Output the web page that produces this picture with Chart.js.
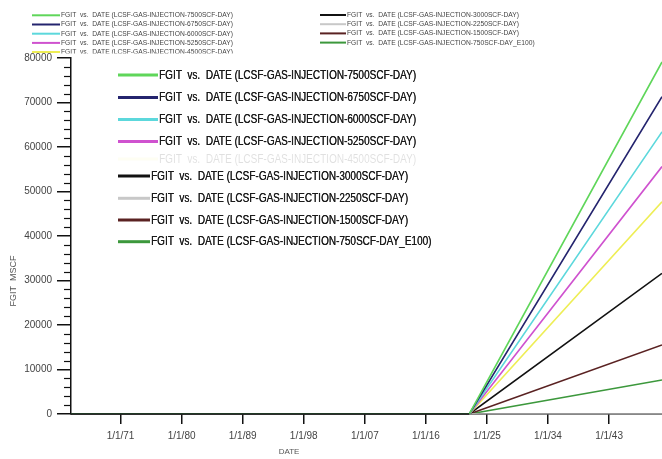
<!DOCTYPE html>
<html><head><meta charset="utf-8">
<script src="https://cdn.jsdelivr.net/npm/chart.js@4/dist/chart.umd.min.js"></script>
<style>html,body{margin:0;padding:0;background:#fff;} #wrap{width:662px;height:459px;position:relative;}</style>
</head><body><div id="wrap"><canvas id="c" width="662" height="459"></canvas></div>
<script>
// ---- data ----
const dateYears = [1963.7, 2022.4, 2050.8];
const seriesLabels = [
  'FGIT  vs.  DATE (LCSF-GAS-INJECTION-7500SCF-DAY)',
  'FGIT  vs.  DATE (LCSF-GAS-INJECTION-6750SCF-DAY)',
  'FGIT  vs.  DATE (LCSF-GAS-INJECTION-6000SCF-DAY)',
  'FGIT  vs.  DATE (LCSF-GAS-INJECTION-5250SCF-DAY)',
  'FGIT  vs.  DATE (LCSF-GAS-INJECTION-4500SCF-DAY)',
  'FGIT  vs.  DATE (LCSF-GAS-INJECTION-3000SCF-DAY)',
  'FGIT  vs.  DATE (LCSF-GAS-INJECTION-2250SCF-DAY)',
  'FGIT  vs.  DATE (LCSF-GAS-INJECTION-1500SCF-DAY)',
  'FGIT  vs.  DATE (LCSF-GAS-INJECTION-750SCF-DAY_E100)'
];
const fgit7500 = [0, 0, 79100];
const fgit6750 = [0, 0, 71300];
const fgit6000 = [0, 0, 63400];
const fgit5250 = [0, 0, 55600];
const fgit4500 = [0, 0, 47700];
const fgit3000 = [0, 0, 31600];
const fgit2250 = [0, 0, 0];
const fgit1500 = [0, 0, 15500];
const fgit750  = [0, 0, 7640];
const tickYears = [1971, 1980, 1989, 1998, 2007, 2016, 2025, 2034, 2043];
const yTitle = 'FGIT  MSCF';
const xTitle = 'DATE';

// ---- styles ----
const seriesColors = ['#5fd65a', '#24246e', '#5cd8dc', '#cf52cf', '#eeee55', '#111111', '#c8c8c8', '#5a2222', '#3c983c'];
const allSeries = [fgit7500, fgit6750, fgit6000, fgit5250, fgit4500, fgit3000, fgit2250, fgit1500, fgit750];

const datasets = allSeries.map((vals, i) => ({
  label: seriesLabels[i],
  data: vals.map((v, j) => ({x: dateYears[j], y: v})),
  borderColor: seriesColors[i],
  backgroundColor: seriesColors[i],
  borderWidth: 1.6,
  pointRadius: 0,
  tension: 0,
  fill: false
}));

const overlay = {
  id: 'overlay',
  afterDraw(chart) {
    const ctx = chart.ctx, ys = chart.scales.y, xs = chart.scales.x;
    ctx.save();
    // x axis line redrawn on top of the zero-valued series
    ctx.strokeStyle = '#111'; ctx.lineWidth = 1.5;
    const y0 = ys.getPixelForValue(0);
    ctx.beginPath(); ctx.moveTo(xs.left, y0); ctx.lineTo(xs.getPixelForValue(dateYears[1]), y0); ctx.stroke();
    // minor y ticks
    ctx.lineWidth = 1.2;
    for (let v = 0; v <= ys.max; v += 2000) {
      if (v % 10000 === 0) continue;
      const p = Math.round(ys.getPixelForValue(v)) + 0.5;
      ctx.beginPath(); ctx.moveTo(xs.left - 7, p); ctx.lineTo(xs.left, p); ctx.stroke();
    }
    // axis titles
    ctx.fillStyle = '#555';
    ctx.textAlign = 'center'; ctx.textBaseline = 'middle';
    ctx.font = '9px "Liberation Sans", Arial, sans-serif';
    ctx.save(); ctx.translate(14, 281); ctx.rotate(-Math.PI / 2); ctx.fillText(yTitle, 0, 0); ctx.restore();
    ctx.font = '8px "Liberation Sans", Arial, sans-serif';
    ctx.fillText(xTitle, 289, 452);

    // top legend
    ctx.textAlign = 'left';
    ctx.font = '7px "Liberation Sans", Arial, sans-serif';
    const k1 = 172 / ctx.measureText(seriesLabels[0]).width;
    const drawSmall = (i, x0, x1, y) => {
      ctx.strokeStyle = seriesColors[i]; ctx.lineWidth = 2;
      ctx.beginPath(); ctx.moveTo(x0, y); ctx.lineTo(x1, y); ctx.stroke();
      ctx.fillStyle = '#444';
      ctx.save(); ctx.translate(x1 + 1, y); ctx.scale(k1, 1); ctx.fillText(seriesLabels[i], 0, 0); ctx.restore();
    };
    for (let i = 0; i < 4; i++) drawSmall(i, 32, 60, 15.3 + i * 9.2);
    ctx.save(); ctx.beginPath(); ctx.rect(0, 0, 662, 53.5); ctx.clip();
    drawSmall(4, 32, 60, 15.3 + 4 * 9.2);
    ctx.restore();
    for (let i = 5; i < 9; i++) drawSmall(i, 320, 346, 15 + (i - 5) * 9.2);

    // inner legend
    ctx.font = '13px "Liberation Sans Narrow", "Arial Narrow", "Liberation Sans", sans-serif';
    const k2 = 257 / ctx.measureText(seriesLabels[0]).width;
    const rows = [75, 97.5, 119.5, 141.5, 159, 176, 198.3, 220, 241.7];
    rows.forEach((y, i) => {
      const faint = (i === 4);
      const x1 = i < 5 ? 158 : 150;
      ctx.globalAlpha = faint ? 0.07 : 1;
      ctx.strokeStyle = seriesColors[i]; ctx.lineWidth = 3;
      ctx.beginPath(); ctx.moveTo(118, y); ctx.lineTo(x1, y); ctx.stroke();
      ctx.fillStyle = '#1a1a1a';
      ctx.save(); ctx.translate(x1 + 1, y); ctx.scale(k2, 1);
      ctx.fillText(seriesLabels[i], 0, 0); ctx.fillText(seriesLabels[i], 0.3, 0);
      ctx.restore();
    });
    ctx.restore();
  }
};

new Chart(document.getElementById('c'), {
  type: 'line',
  data: { datasets },
  options: {
    responsive: false,
    animation: false,
    devicePixelRatio: 1,
    layout: { padding: { top: 58, left: 0, right: 0, bottom: 0 } },
    plugins: { legend: { display: false }, tooltip: { enabled: false } },
    scales: {
      x: {
        type: 'linear', min: 1963.7, max: 2050.8, z: 1,
        afterBuildTicks: s => { s.ticks = tickYears.map(v => ({ value: v })); },
        afterFit: s => { s.height = 45; },
        ticks: {
          autoSkip: false, maxRotation: 0, padding: 6, color: '#444',
          font: { family: '"Liberation Sans", Arial, sans-serif', size: 10 },
          callback: v => '1/1/' + String(v % 100).padStart(2, '0')
        },
        grid: { drawOnChartArea: false, drawTicks: true, tickLength: 10, color: '#111', lineWidth: 1.5 },
        border: { display: true, color: '#111', width: 1.5 }
      },
      y: {
        min: 0, max: 80000, z: 1,
        afterFit: s => { s.width = 71; },
        ticks: {
          stepSize: 10000, padding: 5, color: '#444',
          font: { family: '"Liberation Sans", Arial, sans-serif', size: 10 },
          callback: v => String(v)
        },
        grid: { drawOnChartArea: false, drawTicks: true, tickLength: 14, color: '#111', lineWidth: 1.5 },
        border: { display: true, color: '#111', width: 1.5 }
      }
    }
  },
  plugins: [overlay]
});
</script>
</body></html>
